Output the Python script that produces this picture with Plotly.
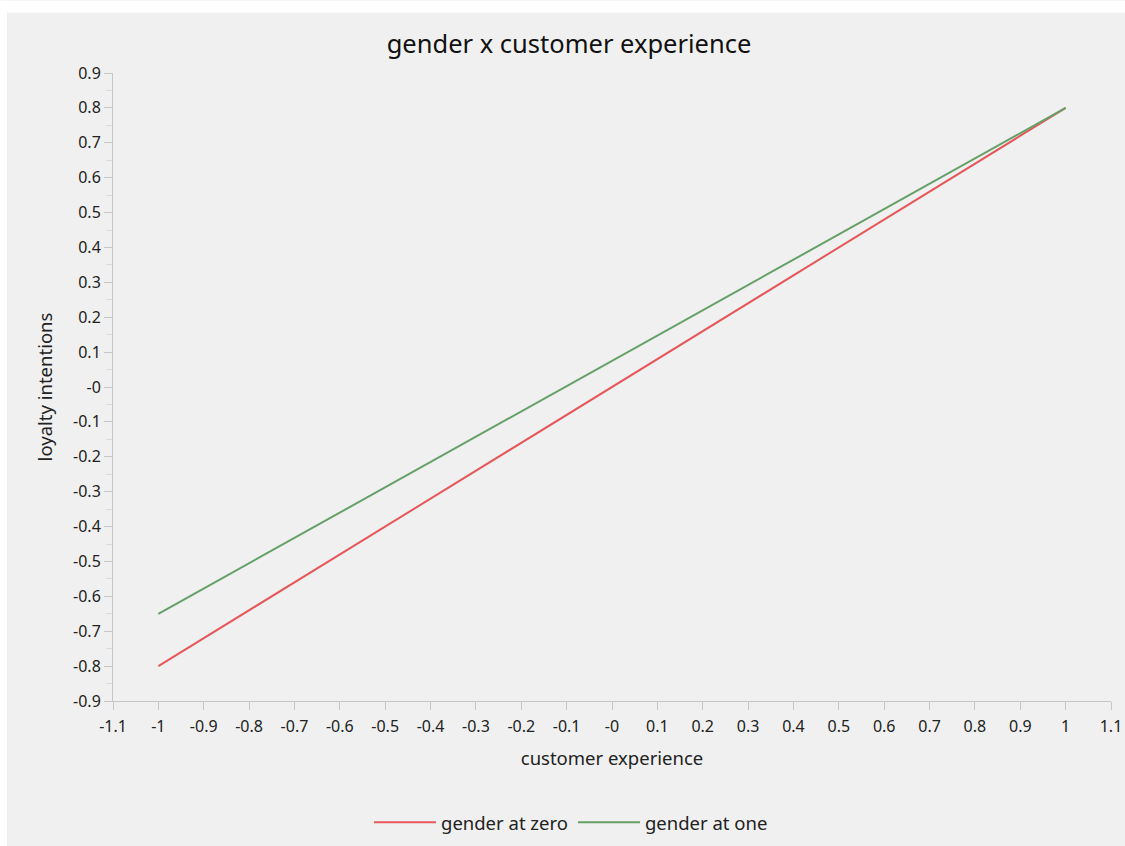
import plotly.graph_objects as go

# customer experience (x) and predicted loyalty intentions per gender group
experience = [-1.0, 1.0]
loyalty_gender_zero = [-0.8, 0.8]
loyalty_gender_one = [-0.65, 0.8]

tick_vals = [round(-1.1 + 0.1 * i, 1) for i in range(23)]
x_tick_text = ["-0" if v == 0 else f"{v:g}" for v in tick_vals]
y_vals = [round(-0.9 + 0.1 * i, 1) for i in range(19)]
y_tick_text = ["-0" if v == 0 else f"{v:g}" for v in y_vals]

FONT = "Noto Sans"
BG = "#f0f0f0"
AXIS = "#c6c6c6"

fig = go.Figure()
fig.add_trace(go.Scatter(
    x=experience, y=loyalty_gender_zero, mode="lines", name="gender at zero",
    line=dict(color="#e5575b", width=2),
))
fig.add_trace(go.Scatter(
    x=experience, y=loyalty_gender_one, mode="lines", name="gender at one",
    line=dict(color="#66a068", width=2),
))

# canvas size and plot-area margins (pixels)
W, H = 1133, 854
L, R, T, B = 113, 22, 73, 147
pw, ph = W - L - R, H - T - B
def px(xp):
    return (xp - L) / pw
def py(yp):
    return 1 + (T - yp) / ph

# thin white frame along the top and left edges of the canvas
fig.add_shape(type="rect", xref="paper", yref="paper", x0=px(0), x1=px(W), y0=py(0), y1=py(12),
              fillcolor="white", line_width=0, layer="below")
fig.add_shape(type="rect", xref="paper", yref="paper", x0=px(0), x1=px(7), y0=py(0), y1=py(H),
              fillcolor="white", line_width=0, layer="below")

fig.update_layout(
    width=W, height=H,
    margin=dict(l=L, r=R, t=T, b=B),
    paper_bgcolor=BG, plot_bgcolor=BG,
    font=dict(family=FONT, color="#222222"),
    title=dict(text="gender x customer experience", x=569 / W, xanchor="center",
               y=1 - 44 / H, yanchor="middle", font=dict(size=25.5, color="#111111")),
    showlegend=True,
    legend=dict(orientation="h", x=px(571), xanchor="center", y=py(830), yanchor="middle",
                font=dict(size=18.5, color="#222222"), itemwidth=62, bgcolor="rgba(0,0,0,0)"),
    xaxis=dict(
        range=[-1.1, 1.1], tickvals=tick_vals, ticktext=x_tick_text,
        showgrid=False, zeroline=False, showline=True, linecolor=AXIS, linewidth=1,
        ticks="outside", ticklen=8, tickcolor=AXIS, ticklabelstandoff=3,
        tickfont=dict(size=16, color="#222222"),
        title=dict(text="customer experience", font=dict(size=18.5), standoff=15),
    ),
    yaxis=dict(
        range=[-0.9, 0.9], tickvals=y_vals, ticktext=y_tick_text,
        showgrid=False, zeroline=False, showline=True, linecolor=AXIS, linewidth=1,
        ticks="outside", ticklen=8, tickcolor=AXIS, tickfont=dict(size=16, color="#222222"),
        minor=dict(dtick=0.05, tick0=0.05, ticks="outside", ticklen=6, tickcolor="#dadada"),
        title=dict(text="loyalty intentions", font=dict(size=18.5), standoff=15),
    ),
)

fig.write_html("out.html")
